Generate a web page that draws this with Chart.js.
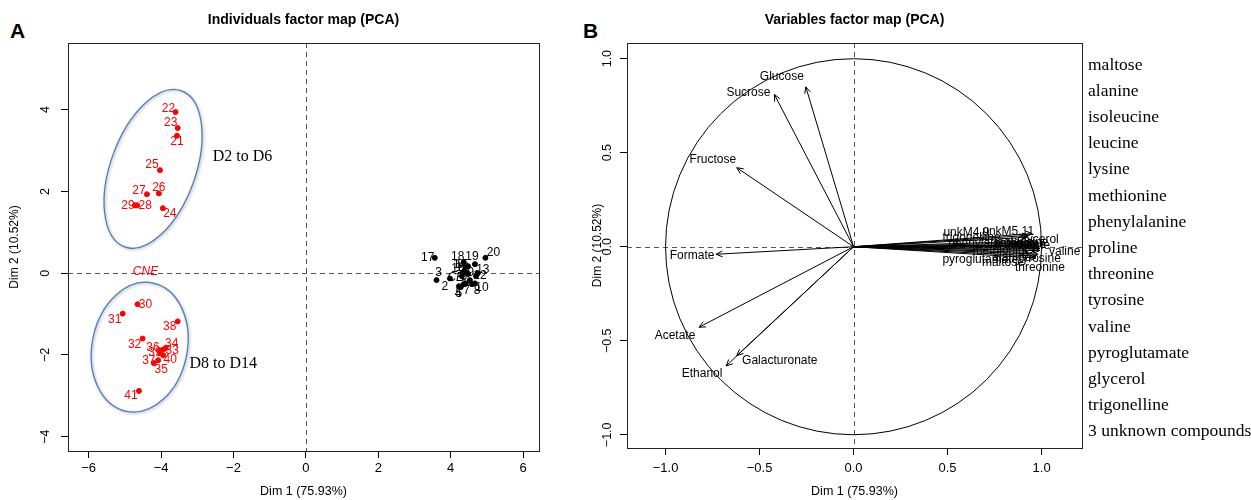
<!DOCTYPE html>
<html>
<head>
<meta charset="utf-8">
<script src="https://cdn.jsdelivr.net/npm/chart.js@4.4.0/dist/chart.umd.min.js"></script>
<style>
  body { margin: 0; background: #fff; width: 1251px; height: 500px; overflow: hidden; position: relative; }
  #wa { position: absolute; left: 0; top: 0; width: 560px; height: 500px; }
  #wb { position: absolute; left: 560px; top: 0; width: 691px; height: 500px; }
  .panel { position: absolute; font: bold 21px 'Liberation Sans', Arial, sans-serif; line-height: 21px; }
</style>
</head>
<body>
<div class="panel" style="left:10px;top:20px">A</div>
<div class="panel" style="left:583px;top:20px">B</div>
<div id="wa"><canvas id="chartA"></canvas></div>
<div id="wb"><canvas id="chartB"></canvas></div>
<script>
const SANS = "'Liberation Sans', Arial, sans-serif";
const SERIF = "'Liberation Serif', 'Times New Roman', serif";
Chart.defaults.font.family = SANS;
Chart.defaults.color = '#000';

// --- individuals (panel A) ---
const ctrlIds = ['1','2','3','4','5','6','7','8','9','10','11','12','13','14','15','16','17','18','19','20'];
const ctrlDim1 = [4.31, 3.98, 3.61, 4.23, 4.28, 4.42, 4.36, 4.59, 4.53, 4.67, 4.48, 4.70, 4.75, 4.39, 4.48, 4.34, 3.56, 4.36, 4.67, 4.96];
const ctrlDim2 = [-0.07, -0.13, -0.17, -0.32, -0.34, -0.25, -0.27, -0.27, -0.17, -0.25, -0.02, -0.07, 0.00, 0.07, 0.17, 0.02, 0.375, 0.27, 0.22, 0.375];

const earlyIds = ['21','22','23','24','25','26','27','28','29'];
const earlyDim1 = [-3.56, -3.60, -3.54, -3.95, -4.03, -4.06, -4.39, -4.66, -4.72];
const earlyDim2 = [3.36, 3.94, 3.55, 1.59, 2.52, 1.95, 1.93, 1.66, 1.66];

const lateIds = ['30','31','32','33','34','35','36','37','38','39','40','41'];
const lateDim1 = [-4.65, -5.06, -4.51, -3.94, -3.87, -4.08, -4.03, -4.20, -3.54, -4.03, -3.94, -4.61];
const lateDim2 = [-0.76, -0.99, -1.60, -1.87, -1.83, -2.13, -1.89, -2.20, -1.18, -1.95, -2.01, -2.88];

const qualiIds = ['CE', 'CNE'];
const qualiDim1 = [4.14, -4.43];
const qualiDim2 = [-0.10, 0.03];

// --- variables (panel B) ---
const varNames = ['Glucose','Sucrose','Fructose','Formate','Acetate','Galacturonate','Ethanol',
  'maltose','alanine','isoleucine','leucine','lysine','methionine','phenylalanine','proline',
  'threonine','tyrosine','valine','pyroglutamate','glycerol','trigonelline','unkM4.9','unkM5.11'];
const varDim1 = [-0.254, -0.421, -0.621, -0.731, -0.822, -0.621, -0.678,
  0.97, 0.99, 0.98, 0.99, 0.98, 0.97, 0.95, 0.97, 0.97, 0.98, 0.99, 0.93, 0.96, 0.92, 0.93, 0.95];
const varDim2 = [0.850, 0.809, 0.420, -0.040, -0.428, -0.579, -0.634,
  -0.05, -0.02, 0.01, 0.00, 0.00, -0.02, 0.02, 0.01, -0.06, -0.04, -0.01, -0.03, 0.03, 0.05, 0.06, 0.07];

const compoundNames = ['maltose','alanine','isoleucine','leucine','lysine','methionine','phenylalanine',
  'proline','threonine','tyrosine','valine','pyroglutamate','glycerol','trigonelline','3 unknown compounds'];

// label nudges in px (label placement, like R autoLab)
const indNudge = {
  '1':[2,8],'2':[-5,8],'3':[2,-7],'4':[-1,7],'5':[-2,7],'6':[-2,-7],'7':[3,6],'8':[5,6],'9':[1,-7],
  '10':[7,4],'11':[-6,-6],'12':[4,0],'13':[5,-3],'14':[-5,-6],'15':[-6,-2],'16':[-5,-4],'17':[-7,0],
  '18':[-6,-5],'19':[-3,-7],'20':[8,-5],
  '21':[0,6],'22':[-7,-3],'23':[-7,-5],'24':[7,6],'25':[-8,-5],'26':[0,-6],'27':[-8,-4],'28':[8,0],'29':[-7,0],
  '30':[8,0],'31':[-8,6],'32':[-8,6],'33':[9,1],'34':[6,-4],'35':[3,9],'36':[-7,-3],'37':[-5,-2],'38':[-8,5],
  '39':[-5,0],'40':[7,4],'41':[-8,5],'CE':[0,0],'CNE':[0,0]
};
const varNudge = {
  'Glucose':[-24,-10],'Sucrose':[-26,-2],'Fructose':[-24,-8],'Formate':[-24,1],'Acetate':[-24,8],
  'Galacturonate':[43,5],'Ethanol':[-24,8],'maltose':[-33,7],'alanine':[-28,7],'isoleucine':[-16,-2],
  'leucine':[-13,-2],'lysine':[-3,-1],'methionine':[-34,0],'phenylalanine':[-47,1],'proline':[-24,-1],
  'threonine':[4,10],'tyrosine':[2,4],'valine':[25,3],'pyroglutamate':[-48,7],'glycerol':[4,-1],
  'trigonelline':[-55,0],'unkM4.9':[-62,-3],'unkM5.11':[-24,-2]
};

// hand-drawn group outlines: centre in data units, radii in px, tilt in degrees
const groupOutlines = [
  { cx: -4.22, cy: 2.55, rx: 42.5, ry: 83, tilt: 20, text: 'D2 to D6', tx: -1.75, ty: 2.85 },
  { cx: -4.59, cy: -1.81, rx: 47.6, ry: 65.5, tilt: 11.7, text: 'D8 to D14', tx: -2.28, ty: -2.21 }
];

const toPts = (xs, ys) => xs.map((v, i) => ({ x: v, y: ys[i] }));
const fmt = d => v => (v < -1e-9 ? '\u2212' : '') + Math.abs(v).toFixed(d);

const framePlugin = {
  id: 'frame',
  beforeDatasetsDraw(chart) {
    const { ctx, chartArea: a, scales: { x, y } } = chart;
    const x0 = Math.round(x.getPixelForValue(0)) + 0.5;
    const y0 = Math.round(y.getPixelForValue(0)) + 0.5;
    ctx.save();
    ctx.strokeStyle = '#555';
    ctx.lineWidth = 1;
    ctx.setLineDash([5, 4]);
    ctx.beginPath();
    ctx.moveTo(x0, a.top); ctx.lineTo(x0, a.bottom);
    ctx.moveTo(a.left, y0); ctx.lineTo(a.right, y0);
    ctx.stroke();
    ctx.restore();
  },
  afterDraw(chart, args, opts) {
    const { ctx, chartArea: a } = chart;
    ctx.save();
    ctx.strokeStyle = '#222';
    ctx.lineWidth = 1;
    ctx.strokeRect(Math.round(a.left) + 0.5, Math.round(a.top) + 0.5,
      Math.round(a.right - a.left), Math.round(a.bottom - a.top));
    ctx.font = 'bold 14px ' + SANS;
    ctx.fillStyle = '#000';
    ctx.textAlign = 'center';
    ctx.textBaseline = 'middle';
    ctx.fillText(opts.text, (a.left + a.right) / 2, 20.5);
    ctx.restore();
  }
};

const indLabelPlugin = {
  id: 'indLabels',
  afterDatasetsDraw(chart) {
    const { ctx, scales: { x, y } } = chart;
    ctx.save();
    // group outlines
    groupOutlines.forEach(g => {
      ctx.save();
      ctx.shadowColor = 'rgba(0,0,0,0.35)';
      ctx.shadowBlur = 3;
      ctx.shadowOffsetX = 1;
      ctx.shadowOffsetY = 1;
      ctx.strokeStyle = '#4a7ebb';
      ctx.lineWidth = 1.3;
      ctx.beginPath();
      ctx.ellipse(x.getPixelForValue(g.cx), y.getPixelForValue(g.cy), g.rx, g.ry, g.tilt * Math.PI / 180, 0, Math.PI * 2);
      ctx.stroke();
      ctx.restore();
      ctx.font = '16px ' + SERIF;
      ctx.fillStyle = '#000';
      ctx.textAlign = 'center';
      ctx.textBaseline = 'middle';
      ctx.fillText(g.text, x.getPixelForValue(g.tx), y.getPixelForValue(g.ty));
    });
    chart.data.datasets.forEach((ds, di) => {
      const meta = chart.getDatasetMeta(di);
      ctx.font = (ds.italic ? 'italic ' : '') + '12px ' + SANS;
      ctx.fillStyle = ds.textColor;
      ctx.textAlign = 'center';
      ctx.textBaseline = 'middle';
      meta.data.forEach((pt, i) => {
        const id = ds.ids[i];
        const n = indNudge[id] || [0, 0];
        ctx.fillText(id, pt.x + n[0], pt.y + n[1]);
      });
    });
    ctx.restore();
  }
};

const varPlugin = {
  id: 'varDecor',
  beforeDatasetsDraw(chart) {
    const { ctx, scales: { x, y } } = chart;
    const cx = x.getPixelForValue(0), cy = y.getPixelForValue(0);
    const r = x.getPixelForValue(1) - cx;
    ctx.save();
    ctx.strokeStyle = '#000';
    ctx.lineWidth = 1;
    ctx.beginPath();
    ctx.arc(cx, cy, r, 0, Math.PI * 2);
    ctx.stroke();
    ctx.restore();
  },
  afterDatasetsDraw(chart) {
    const { ctx } = chart;
    ctx.save();
    ctx.strokeStyle = '#000';
    ctx.fillStyle = '#000';
    ctx.lineWidth = 1;
    ctx.font = '12px ' + SANS;
    ctx.textAlign = 'center';
    ctx.textBaseline = 'middle';
    chart.data.datasets.forEach((ds, di) => {
      const meta = chart.getDatasetMeta(di);
      const p0 = meta.data[0], p1 = meta.data[1];
      const ang = Math.atan2(p1.y - p0.y, p1.x - p0.x);
      const L = 7, w = 25 * Math.PI / 180;
      ctx.beginPath();
      ctx.moveTo(p1.x - L * Math.cos(ang - w), p1.y - L * Math.sin(ang - w));
      ctx.lineTo(p1.x, p1.y);
      ctx.lineTo(p1.x - L * Math.cos(ang + w), p1.y - L * Math.sin(ang + w));
      ctx.stroke();
      const n = varNudge[ds.label] || [0, 0];
      ctx.fillText(ds.label, p1.x + n[0], p1.y + n[1]);
    });
    ctx.restore();
  },
  afterDraw(chart) {
    const { ctx, chartArea: a } = chart;
    ctx.save();
    ctx.fillStyle = '#000';
    ctx.font = '17.5px ' + SERIF;
    ctx.textAlign = 'left';
    ctx.textBaseline = 'middle';
    compoundNames.forEach((name, i) => {
      ctx.fillText(name, a.right + 6, 65 + i * 26.2);
    });
    ctx.restore();
  }
};

const axisCommon = {
  grid: { drawOnChartArea: false, drawTicks: true, tickLength: 7, tickColor: '#000', color: '#000' },
  border: { display: true, color: '#222' }
};

new Chart(document.getElementById('chartA'), {
  type: 'scatter',
  data: {
    datasets: [
      { ids: ctrlIds, data: toPts(ctrlDim1, ctrlDim2), backgroundColor: '#000', borderColor: '#000', pointRadius: 2.5, textColor: '#000' },
      { ids: earlyIds, data: toPts(earlyDim1, earlyDim2), backgroundColor: '#ff0000', borderColor: '#ff0000', pointRadius: 2.5, textColor: '#ff0000' },
      { ids: lateIds, data: toPts(lateDim1, lateDim2), backgroundColor: '#ff0000', borderColor: '#ff0000', pointRadius: 2.5, textColor: '#ff0000' },
      { ids: qualiIds.slice(0, 1), data: toPts(qualiDim1.slice(0, 1), qualiDim2.slice(0, 1)), pointRadius: 0, textColor: '#000', italic: true },
      { ids: qualiIds.slice(1), data: toPts(qualiDim1.slice(1), qualiDim2.slice(1)), pointRadius: 0, textColor: '#ff0000', italic: true }
    ]
  },
  options: {
    responsive: true,
    maintainAspectRatio: false,
    animation: false,
    layout: { padding: { top: 43, right: 21, left: 0, bottom: 0 } },
    plugins: { legend: { display: false }, tooltip: { enabled: false }, frame: { text: 'Individuals factor map (PCA)' } },
    scales: {
      x: {
        ...axisCommon,
        min: -6.57, max: 6.44,
        afterFit: s => { s.height = 49; },
        ticks: { stepSize: 2, includeBounds: false, font: { size: 13 }, padding: 3, callback: fmt(0) },
        title: { display: true, text: 'Dim 1 (75.93%)', font: { size: 12.5 }, padding: { top: 0, bottom: 0.5 } }
      },
      y: {
        ...axisCommon,
        min: -4.35, max: 5.63,
        afterFit: s => { s.width = 68; },
        ticks: { stepSize: 2, includeBounds: false, font: { size: 12.5 }, minRotation: 90, maxRotation: 90, crossAlign: 'center', padding: 8, callback: fmt(0) },
        title: { display: true, text: 'Dim 2 (10.52%)', font: { size: 12 }, padding: { top: 7, bottom: 0 } }
      }
    }
  },
  plugins: [framePlugin, indLabelPlugin]
});

new Chart(document.getElementById('chartB'), {
  type: 'scatter',
  data: {
    datasets: varNames.map((name, i) => ({
      label: name,
      data: [{ x: 0, y: 0 }, { x: varDim1[i], y: varDim2[i] }],
      showLine: true,
      borderColor: '#000',
      borderWidth: 1,
      pointRadius: 0,
      fill: false
    }))
  },
  options: {
    responsive: true,
    maintainAspectRatio: false,
    animation: false,
    layout: { padding: { top: 43, right: 169, left: 0, bottom: 0 } },
    plugins: { legend: { display: false }, tooltip: { enabled: false }, frame: { text: 'Variables factor map (PCA)' } },
    scales: {
      x: {
        ...axisCommon,
        min: -1.205, max: 1.215,
        afterFit: s => { s.height = 52; },
        ticks: { stepSize: 0.5, includeBounds: false, font: { size: 13 }, padding: 6, callback: fmt(1) },
        title: { display: true, text: 'Dim 1 (75.93%)', font: { size: 12.5 }, padding: { top: 0, bottom: 0.5 } }
      },
      y: {
        ...axisCommon,
        min: -1.07, max: 1.083,
        afterFit: s => { s.width = 67; },
        ticks: { stepSize: 0.5, includeBounds: false, font: { size: 12.5 }, minRotation: 90, maxRotation: 90, crossAlign: 'center', padding: 0, callback: fmt(1) },
        title: { display: true, text: 'Dim 2 (10.52%)', font: { size: 12 }, padding: { top: 30, bottom: 0 } }
      }
    }
  },
  plugins: [framePlugin, varPlugin]
});
</script>
</body>
</html>
